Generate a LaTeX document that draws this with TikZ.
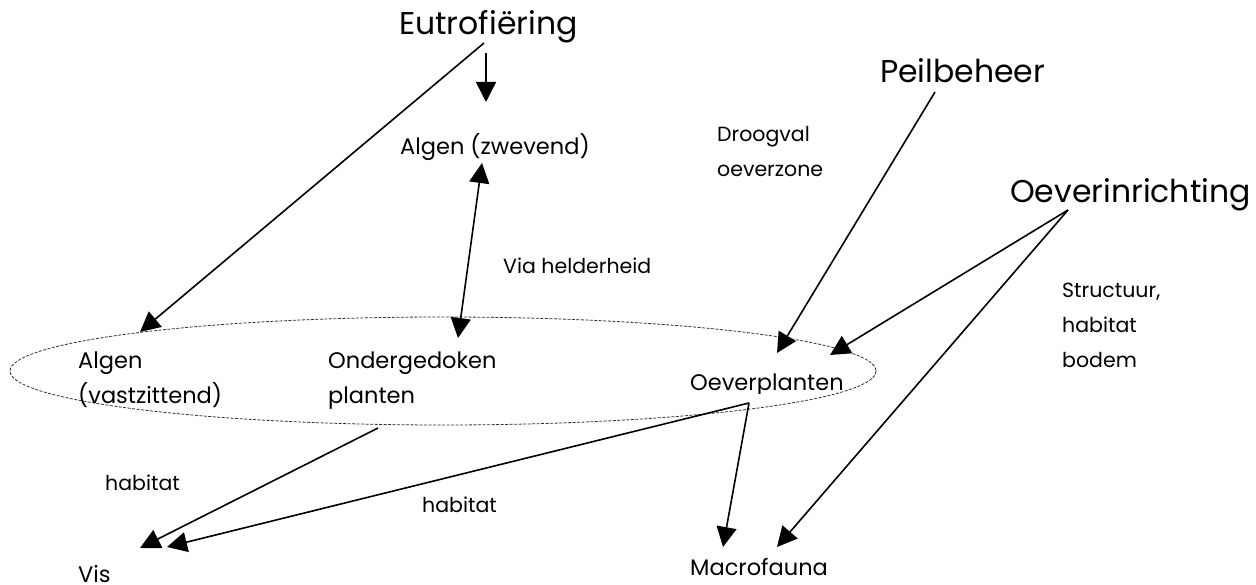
\documentclass[tikz,border=0pt]{standalone}
\usepackage{fontspec}
\setmainfont{Poppins}
\usetikzlibrary{arrows.meta}
\begin{document}
\begin{tikzpicture}[x=1pt,y=-1pt,
  bigtext/.style={font=\fontsize{31.5}{36}\selectfont, anchor=base west, inner sep=0pt},
  midtext/.style={font=\fontsize{22.5}{26}\selectfont, anchor=base west, inner sep=0pt},
  smalltext/.style={font=\fontsize{20.5}{24}\selectfont, anchor=base west, inner sep=0pt},
  link/.style={line width=1.6pt, -{Triangle[length=20pt,width=20pt]}},
  twoway/.style={line width=1.6pt, {Triangle[length=20pt,width=20pt]}-{Triangle[length=20pt,width=20pt]}},
  group/.style={line width=0.8pt, dash pattern=on 3pt off 1.5pt, draw=black!80},
]
\useasboundingbox (0,0) rectangle (1256,585);

% drivers
\node[bigtext] (eutro) at (399,35) {Eutrofiëring};
\node[bigtext] (peil) at (880,83) {Peilbeheer};
\node[bigtext] (oever) at (1010,203) {Oeverinrichting};

% organisms
\node[midtext] (algzw) at (400,155) {Algen (zwevend)};
\node[midtext] (algvast1) at (78,368) {Algen};
\node[midtext] (algvast2) at (78,403) {(vastzittend)};
\node[midtext] (onder1) at (328,368) {Ondergedoken};
\node[midtext] (onder2) at (328,403) {planten};
\begin{scope}
  \clip (680,355) rectangle (880,393);
  \node[midtext] (oevpl) at (690,390) {Oeverplanten};
\end{scope}
\node[midtext] (vis) at (78,582) {Vis};
\node[midtext] (macro) at (690,575) {Macrofauna};

% relation labels
\node[smalltext] (droog1) at (717,142) {Droogval};
\node[smalltext] (droog2) at (717,177) {oeverzone};
\node[smalltext] (helder) at (503,274) {Via helderheid};
\node[smalltext] (struct1) at (1062,298) {Structuur,};
\node[smalltext] (struct2) at (1062,333) {habitat};
\node[smalltext] (struct3) at (1062,367) {bodem};
\node[smalltext] (hab1) at (105,490) {habitat};
\node[smalltext] (hab2) at (422,512) {habitat};

% dashed grouping of the water plants and algae
\draw[group] (443,371) ellipse [x radius=433, y radius=54];

% connector end points
\coordinate (eutroA) at (484,43);
\coordinate (eutroB) at (486,53);
\coordinate (algvastT) at (140,332);
\coordinate (algzwT) at (486,102);
\coordinate (zwTop) at (482,163);
\coordinate (zwBot) at (458,338);
\coordinate (peilS) at (935,92);
\coordinate (peilT) at (777,353);
\coordinate (oeverS) at (1068,210);
\coordinate (oeverT) at (830,355);
\coordinate (macroT2) at (777,547);
\coordinate (onderS) at (378,428);
\coordinate (visT1) at (140,548);
\coordinate (oevplS) at (749,403);
\coordinate (visT2) at (167,547);
\coordinate (macroT1) at (723,547);

% connectors
\draw[link] (eutroA) -- (algvastT);
\draw[link] (eutroB) -- (algzwT);
\draw[twoway] (zwTop) -- (zwBot);
\draw[link] (peilS) -- (peilT);
\draw[link] (oeverS) -- (oeverT);
\draw[link] (oeverS) -- (macroT2);
\draw[link] (onderS) -- (visT1);
\draw[link] (oevplS) -- (visT2);
\draw[link] (oevplS) -- (macroT1);
\end{tikzpicture}
\end{document}
